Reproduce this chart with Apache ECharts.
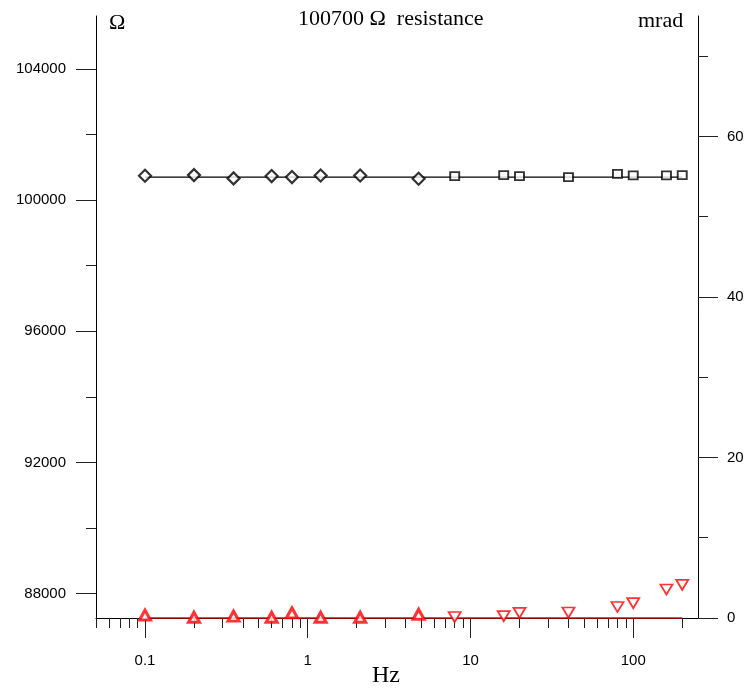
<!DOCTYPE html>
<html>
<head>
<meta charset="utf-8">
<script src="https://cdn.jsdelivr.net/npm/echarts@6/dist/echarts.min.js"></script>
<style>
  html, body { margin: 0; padding: 0; background: #fff; }
  #chart { width: 755px; height: 689px; }
</style>
</head>
<body>
<div id="chart"></div>
<script>
// Nominal value of the standard resistor
const nominalOhm = 100700;

// Measurement frequencies (Hz): low band (diamonds / up triangles), high band (squares / down triangles)
const freqLow  = [0.1, 0.2, 0.35, 0.6, 0.8, 1.2, 2.1, 4.8];
const freqHigh = [8, 16, 20, 40, 80, 100, 160, 200];

// Measured resistance (Ω)
const ohmLow  = [100740, 100760, 100660, 100730, 100700, 100750, 100750, 100650];
const ohmHigh = [100730, 100760, 100730, 100700, 100800, 100750, 100750, 100760];

// Measured phase angle (mrad)
const mradLow  = [0.35, 0.09, 0.23, 0.09, 0.64, 0.09, 0.09, 0.46];
const mradHigh = [0.12, 0.23, 0.64, 0.68, 1.37, 1.85, 3.55, 4.13];

// Axis ticks
const ohmTicks       = [88000, 92000, 96000, 100000, 104000];
const ohmMinorTicks  = [90000, 94000, 98000, 102000];
const mradTicks      = [0, 20, 40, 60];
const mradMinorTicks = [10, 30, 50, 70];
const hzTicks        = [0.1, 1, 10, 100];
const hzMinorTicks   = [0.05, 0.06, 0.07, 0.08, 0.09,
                        0.2, 0.3, 0.4, 0.5, 0.6, 0.7, 0.8, 0.9,
                        2, 3, 4, 5, 6, 7, 8, 9,
                        20, 30, 40, 50, 60, 70, 80, 90, 200];

// Axis ranges
const hzRange   = [0.05, 250];
const ohmRange  = [87260, 105610];
const mradRange = [0, 75];

// Frequency is plotted on a decade (log10) scale
const lg = Math.log10;
const pairs = (xs, ys) => xs.map((x, i) => [lg(x), ys[i]]);
const allFreq = freqLow.concat(freqHigh);
const fMin = Math.min.apply(null, allFreq);
const fMax = Math.max.apply(null, allFreq);

const AX = '#000';
const TICK = '#222';
const RED = '#ff0000';
const sans = 'Liberation Sans, Arial, sans-serif';
const serif = 'Liberation Serif, Times New Roman, serif';

function yAxisDef(pos, range, ticks, len, withLabels, margin) {
  return {
    type: 'value', position: pos, min: range[0], max: range[1],
    axisLine: { show: withLabels, onZero: false, lineStyle: { color: AX, width: 1 } },
    axisTick: { show: true, inside: false, length: len, customValues: ticks,
                lineStyle: { color: TICK, width: 1 } },
    axisLabel: withLabels
      ? { show: true, customValues: ticks, margin: margin, color: '#000',
          fontFamily: sans, fontSize: 15, formatter: v => String(v) }
      : { show: false },
    splitLine: { show: false }
  };
}

function xAxisDef(ticks, len, withLabels) {
  return {
    type: 'value', position: 'bottom', min: lg(hzRange[0]), max: lg(hzRange[1]),
    axisLine: { show: withLabels, onZero: false, lineStyle: { color: AX, width: 1 } },
    axisTick: { show: true, inside: false, length: len, customValues: ticks.map(lg),
                lineStyle: { color: TICK, width: 1 } },
    axisLabel: withLabels
      ? { show: true, customValues: ticks.map(lg), margin: 35, color: '#000',
          fontFamily: sans, fontSize: 15,
          formatter: v => String(Number(Math.pow(10, v).toPrecision(6))) }
      : { show: false },
    splitLine: { show: false }
  };
}

const chart = echarts.init(document.getElementById('chart'), null, { renderer: 'canvas' });

chart.setOption({
  animation: false,
  backgroundColor: '#fff',
  grid: { left: 96, right: 57, top: 16, bottom: 71, containLabel: false },
  xAxis: [
    xAxisDef(hzTicks, 20, true),
    xAxisDef(hzMinorTicks, 10, false)
  ],
  yAxis: [
    yAxisDef('left', ohmRange, ohmTicks, 20, true, 30),
    yAxisDef('left', ohmRange, ohmMinorTicks, 10, false, 0),
    yAxisDef('right', mradRange, mradTicks, 20, true, 29),
    yAxisDef('right', mradRange, mradMinorTicks, 10, false, 0)
  ],
  graphic: [
    { type: 'text', left: 109, top: 12,
      style: { text: 'Ω', font: '22px ' + serif, fill: '#000' } },
    { type: 'text', left: 298, top: 8,
      style: { text: '100700 Ω  resistance', font: '22px ' + serif, fill: '#000' } },
    { type: 'text', left: 638, top: 10,
      style: { text: 'mrad', font: '22px ' + serif, fill: '#000' } },
    { type: 'text', left: 372, top: 664,
      style: { text: 'Hz', font: '24px ' + serif, fill: '#000' } }
  ],
  series: [
    {
      name: 'nominal', type: 'line', xAxisIndex: 0, yAxisIndex: 0,
      data: [[lg(fMin), nominalOhm], [lg(fMax), nominalOhm]],
      symbol: 'none', lineStyle: { color: '#000', width: 1.2 }, z: 2
    },
    {
      name: 'zero phase', type: 'line', xAxisIndex: 0, yAxisIndex: 2,
      data: [[lg(fMin), 0], [lg(fMax), 0]],
      symbol: 'none', lineStyle: { color: RED, width: 1.5 }, z: 2
    },
    {
      name: 'R low', type: 'scatter', xAxisIndex: 0, yAxisIndex: 0,
      data: pairs(freqLow, ohmLow),
      symbol: 'diamond', symbolSize: [12, 12],
      itemStyle: { color: '#fff', borderColor: '#000', borderWidth: 2.2 }, z: 3
    },
    {
      name: 'R high', type: 'scatter', xAxisIndex: 0, yAxisIndex: 0,
      data: pairs(freqHigh, ohmHigh),
      symbol: 'rect', symbolSize: [9, 8],
      itemStyle: { color: '#fff', borderColor: '#000', borderWidth: 1.8 }, z: 3
    },
    {
      name: 'phase low', type: 'scatter', xAxisIndex: 0, yAxisIndex: 2,
      data: pairs(freqLow, mradLow),
      symbol: 'triangle', symbolSize: [11, 10],
      itemStyle: { color: '#fff', borderColor: RED, borderWidth: 3 }, z: 4
    },
    {
      name: 'phase high', type: 'scatter', xAxisIndex: 0, yAxisIndex: 2,
      data: pairs(freqHigh, mradHigh),
      symbol: 'triangle', symbolRotate: 180, symbolSize: [12, 10],
      itemStyle: { color: '#fff', borderColor: RED, borderWidth: 1.8 }, z: 4
    }
  ]
});
</script>
</body>
</html>
